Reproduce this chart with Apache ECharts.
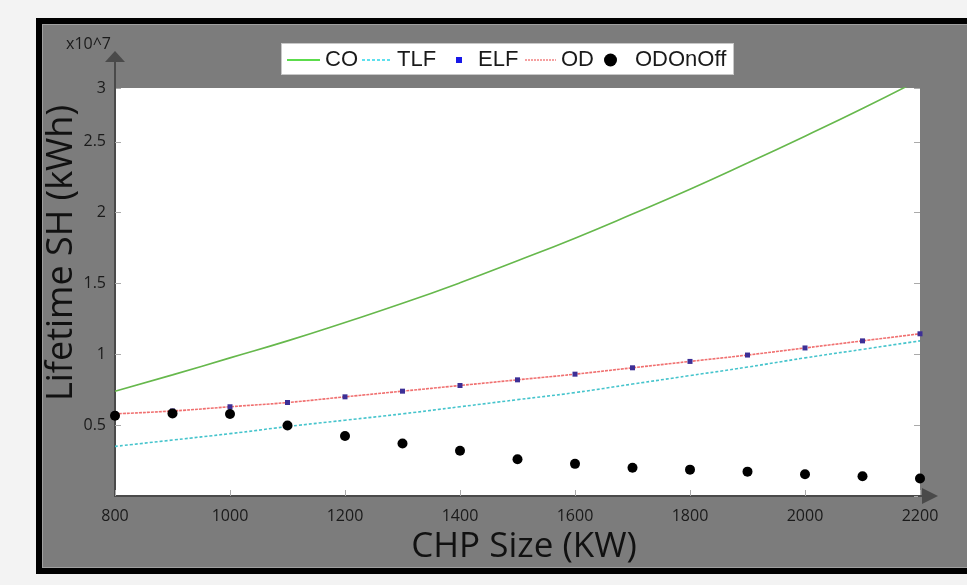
<!DOCTYPE html>
<html>
<head>
    <meta charset="utf-8">
    <title>Lifetime SH</title>
    <script src="https://cdn.jsdelivr.net/npm/echarts@6/dist/echarts.min.js"></script>
    <style>
        html, body { margin: 0; padding: 0; background: #f3f3f3; }
        #frame {
            position: absolute; left: 36px; top: 18px;
            width: 1000px; height: 544px;
            border: 6px solid #000; background: #7c7c7c;
            box-shadow: inset 0 0 0 1px #a0a0a0;
        }
        #legendBox {
            position: absolute; left: 281px; top: 43px;
            width: 451px; height: 30px;
            background: #fff; border: 1px solid #c8c8c8;
        }
        #main { position: absolute; left: 0; top: 0; width: 967px; height: 585px; }
    </style>
</head>
<body>
    <div id="frame"></div>
    <div id="legendBox"></div>
    <div id="main"></div>
    <script type="text/javascript">
        // CHP sizes (kW)
        var sizes = [800, 900, 1000, 1100, 1200, 1300, 1400, 1500, 1600, 1700, 1800, 1900, 2000, 2100, 2200];
        // lifetime SH, in units of 10^7 kWh
        var coValues = [0.74, 0.855, 0.975, 1.095, 1.225, 1.36, 1.505, 1.66, 1.82, 1.99, 2.165, 2.35, 2.54, 2.735, 2.94];
        var tlfValues = [0.35, 0.395, 0.44, 0.49, 0.535, 0.58, 0.63, 0.68, 0.73, 0.79, 0.85, 0.91, 0.975, 1.035, 1.095];
        var elfValues = [0.58, 0.60, 0.63, 0.66, 0.70, 0.74, 0.78, 0.82, 0.86, 0.905, 0.95, 0.995, 1.045, 1.095, 1.145];
        var odValues = [0.58, 0.60, 0.63, 0.66, 0.70, 0.74, 0.78, 0.82, 0.86, 0.905, 0.95, 0.995, 1.045, 1.095, 1.145];
        var odOnOffValues = [0.567, 0.583, 0.579, 0.498, 0.423, 0.37, 0.319, 0.26, 0.227, 0.20, 0.186, 0.172, 0.154, 0.14, 0.123];
        var yTop = 2.88;

        function pairs(vals) {
            return sizes.map(function (x, i) { return [x, vals[i]]; });
        }

        // legend line icons as paths (solid or dashed)
        function lineIcon(len, on, off) {
            if (!off) return 'path://M0,0H' + len + 'V2H0Z';
            var p = '', x = 0;
            while (x < len) {
                var e = Math.min(x + on, len);
                p += 'M' + x + ',0H' + e + 'V2H' + x + 'Z';
                x += on + off;
            }
            return 'path://' + p;
        }

        var myChart = echarts.init(document.getElementById('main'));

        var axisColor = '#4a4a4a';
        var labelFont = { color: '#1a1a1a', fontSize: 16, fontFamily: 'Open Sans' };

        function oneLegend(name, left, w, h, icon, gap, color) {
            return {
                data: [{ name: name, icon: icon, itemStyle: { color: color, opacity: 1 } }],
                left: left, top: 48, padding: 0,
                itemWidth: w, itemHeight: h, symbolKeepAspect: true,
                selectedMode: false,
                textStyle: {
                    color: '#1a1a1a', fontSize: 22, fontFamily: 'Liberation Sans',
                    lineHeight: 24, padding: [0, 0, 0, gap]
                }
            };
        }

        var option = {
            animation: false,
            backgroundColor: 'transparent',
            grid: {
                left: 115, right: 47, top: 88, bottom: 89,
                show: true, backgroundColor: '#fff', borderWidth: 0,
                containLabel: false, outerBoundsMode: 'none'
            },
            legend: [
                oneLegend('CO', 287, 33, 2, lineIcon(33), 0, '#5cdc4c'),
                oneLegend('TLF', 362, 30, 2, lineIcon(30, 3, 2), 1, '#5ee0ee'),
                oneLegend('ELF', 456, 6, 6, 'rect', 11, '#1818e8'),
                oneLegend('OD', 525, 31, 2, lineIcon(31, 2, 1), 0, '#f5a0a0'),
                oneLegend('ODOnOff', 604, 13, 13, 'circle', 13, '#000')
            ],
            xAxis: {
                type: 'value', min: 800, max: 2200, interval: 200,
                axisLine: { show: true, lineStyle: { color: axisColor, width: 2 } },
                axisTick: { show: true, inside: true, length: 6, lineStyle: { color: '#aaa' } },
                axisLabel: Object.assign({
                    margin: 12,
                    formatter: function (v) { return String(v); }
                }, labelFont),
                splitLine: { show: false }
            },
            yAxis: [{
                type: 'value', min: 0, max: yTop, interval: 0.5,
                axisLine: { show: true, lineStyle: { color: axisColor, width: 2 } },
                axisTick: { show: true, inside: true, length: 6, lineStyle: { color: '#aaa' } },
                axisLabel: Object.assign({
                    margin: 9, showMinLabel: false,
                    formatter: function (v) { return v > 2.8 ? '3' : String(v); }
                }, labelFont),
                splitLine: { show: false }
            }, {
                type: 'value', min: 0, max: yTop, interval: 0.5, position: 'right',
                axisLine: { show: false },
                axisTick: { show: true, inside: true, length: 6, lineStyle: { color: '#aaa' } },
                axisLabel: { show: false },
                splitLine: { show: false }
            }],
            series: [{
                name: 'CO', type: 'line', data: pairs(coValues), smooth: true,
                symbol: 'none', color: '#66b84c',
                lineStyle: { width: 1.6, color: '#66b84c' }
            }, {
                name: 'TLF', type: 'line', data: pairs(tlfValues), smooth: true,
                symbol: 'none', color: '#45c4cc',
                lineStyle: { width: 1.6, type: [3, 2], color: '#45c4cc' }
            }, {
                name: 'OD', type: 'line', data: pairs(odValues), smooth: true,
                symbol: 'none', color: '#f07070',
                lineStyle: { width: 1.6, type: [3, 1], color: '#f07070' }
            }, {
                name: 'ELF', type: 'scatter', data: pairs(elfValues),
                symbol: 'rect', symbolSize: 5, z: 3,
                itemStyle: { color: '#3d2f96', opacity: 1 }
            }, {
                name: 'ODOnOff', type: 'scatter', data: pairs(odOnOffValues),
                symbol: 'circle', symbolSize: 10, z: 4,
                itemStyle: { color: '#000', opacity: 1 }
            }],
            graphic: [
                // axis extensions and arrow heads
                { type: 'line', z: 100, shape: { x1: 115, y1: 90, x2: 115, y2: 58 }, style: { stroke: axisColor, lineWidth: 2 } },
                { type: 'polygon', z: 100, shape: { points: [[115, 51], [105, 62], [125, 62]] }, style: { fill: axisColor } },
                { type: 'line', z: 100, shape: { x1: 918, y1: 496, x2: 926, y2: 496 }, style: { stroke: axisColor, lineWidth: 2 } },
                { type: 'polygon', z: 100, shape: { points: [[938, 496], [922, 488], [922, 504]] }, style: { fill: axisColor } },
                { type: 'text', z: 100, x: 66, y: 44,
                  style: { text: 'x10^7', font: '16px "Open Sans"', fill: '#1a1a1a', align: 'left', verticalAlign: 'middle' } },
                { type: 'text', z: 100, x: 62, y: 253, rotation: Math.PI / 2,
                  style: { text: 'Lifetime SH (kWh)', font: '36px "Open Sans"', fill: '#111', align: 'center', verticalAlign: 'middle' } },
                { type: 'text', z: 100, x: 524, y: 547,
                  style: { text: 'CHP Size (KW)', font: '35px "Open Sans"', fill: '#111', align: 'center', verticalAlign: 'middle' } }
            ]
        };

        myChart.setOption(option);
    </script>
</body>
</html>
